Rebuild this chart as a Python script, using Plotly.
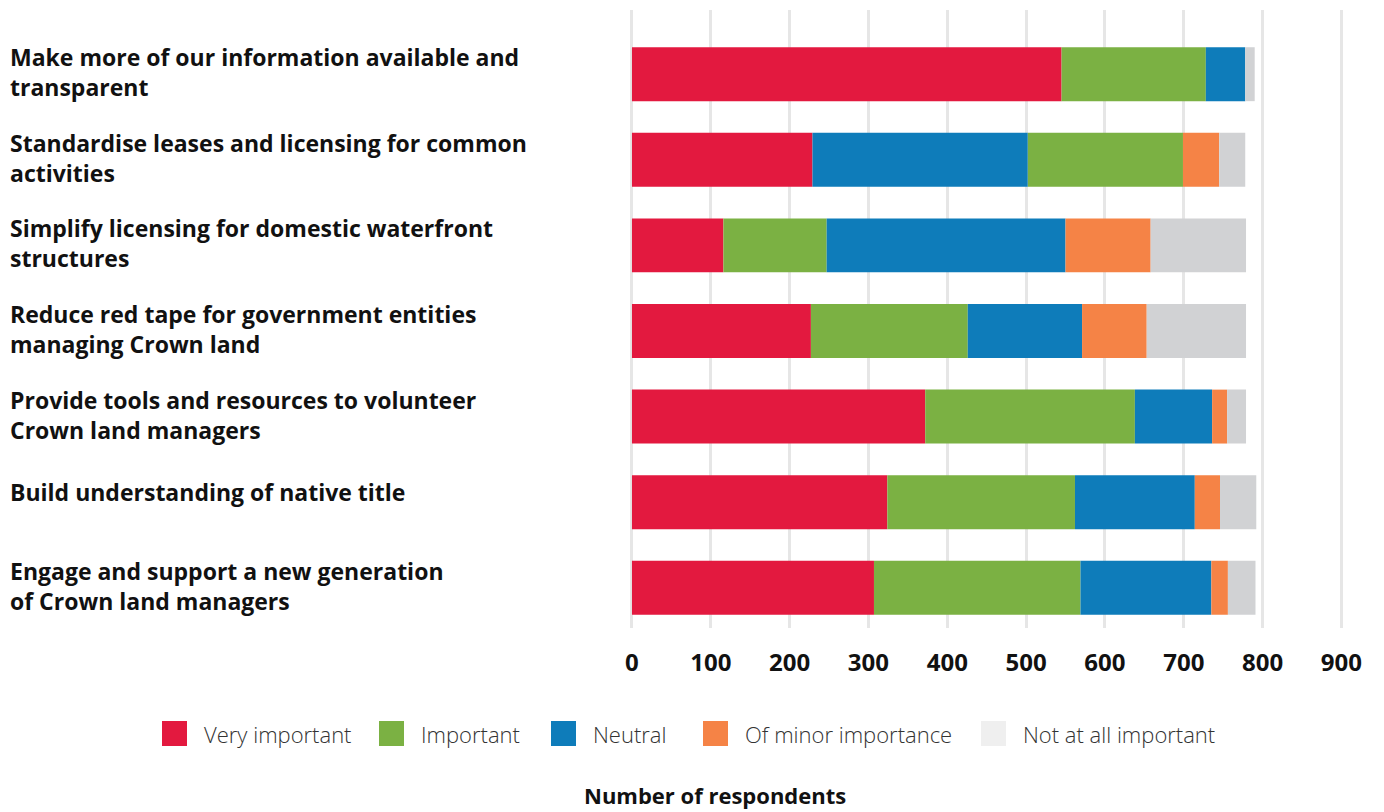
import plotly.graph_objects as go

# survey responses
categories = [
    "Make more of our information available and<br>transparent",
    "Standardise leases and licensing for common<br>activities",
    "Simplify licensing for domestic waterfront<br>structures",
    "Reduce red tape for government entities<br>managing Crown land",
    "Provide tools and resources to volunteer<br>Crown land managers",
    "Build understanding of native title",
    "Engage and support a new generation<br>of Crown land managers",
]
very_important = [545, 229, 116, 227, 372, 324, 307]
important = [183, 197, 131, 199, 266, 238, 262]
neutral = [50, 273, 303, 145, 98, 152, 166]
minor_importance = [0, 46, 108, 82, 19, 32, 21]
not_at_all = [12, 33, 121, 126, 24, 46, 35]

series_names = ["Very important", "Important", "Neutral",
                "Of minor importance", "Not at all important"]
series_values = [very_important, important, neutral, minor_importance, not_at_all]
bar_colors = ["#E3193F", "#7BB143", "#0E7CBA", "#F58346", "#D1D2D4"]
legend_colors = ["#E3193F", "#7BB143", "#0E7CBA", "#F58346", "#EFEFEF"]

# the second row is stacked with Neutral before Important
default_order = [0, 1, 2, 3, 4]
stack_orders = [default_order, [0, 2, 1, 3, 4]] + [default_order] * 5

bases = [[0] * len(categories) for _ in series_names]
for row, order in enumerate(stack_orders):
    running = 0
    for s in order:
        bases[s][row] = running
        running += series_values[s][row]

# page body has an 8px margin, so size the figure to what is left
OFF = 8
W, H = 1384 - OFF, 812 - OFF
ML, MR, MT, MB = 622, 15, 2, 184
PW, PH = W - ML - MR, H - MT - MB


def px_x(p):
    # p is a pixel position in the window
    return (p - OFF - ML) / PW


def px_y(p):
    return 1 - (p - OFF - MT) / PH


fig = go.Figure()
for s, name in enumerate(series_names):
    fig.add_trace(go.Bar(
        y=categories, x=series_values[s], base=bases[s],
        orientation="h", name=name, width=0.63,
        marker=dict(color=bar_colors[s], line=dict(width=0)),
        showlegend=False,
    ))

label_font = dict(family="Open Sans", size=23, color="#111111", weight=700)
for cat in categories:
    fig.add_annotation(
        x=px_x(8), xref="paper", y=cat, yref="y",
        text=cat, showarrow=False, xanchor="left", yanchor="middle",
        align="left", font=label_font,
        yshift=2 if "<br>" in cat else 10,
    )

# legend drawn by hand to get the large square swatches
swatch_x = [162, 379, 551, 703, 981]
for name, color, sx in zip(series_names, legend_colors, swatch_x):
    fig.add_shape(type="rect", xref="paper", yref="paper",
                  x0=px_x(sx), x1=px_x(sx + 25),
                  y0=px_y(746), y1=px_y(721),
                  fillcolor=color, line=dict(width=0))
    fig.add_annotation(x=px_x(sx + 40), y=px_y(734), xref="paper", yref="paper",
                       text=name, showarrow=False, xanchor="left",
                       yanchor="middle",
                       font=dict(family="Open Sans", size=22, color="#333333",
                                 weight=300))

fig.add_annotation(x=px_x(715), y=px_y(795), xref="paper", yref="paper",
                   text="Number of respondents", showarrow=False,
                   xanchor="center", yanchor="middle",
                   font=dict(family="Open Sans", size=22, color="#111111",
                             weight=700))

fig.update_layout(
    width=W, height=H,
    barmode="overlay",
    plot_bgcolor="white", paper_bgcolor="white",
    margin=dict(l=ML, r=MR, t=MT, b=MB),
    xaxis=dict(range=[-2.5, 935], dtick=100, tick0=0,
               showgrid=True, gridcolor="#E6E6E6", gridwidth=2.5,
               zeroline=False, showline=False,
               tickfont=dict(family="Open Sans", size=24, color="#111111",
                             weight=700),
               ticklabelstandoff=18),
    yaxis=dict(range=[6.47, -0.75], showticklabels=False,
               showgrid=False, zeroline=False, showline=False),
)

fig.write_html("out.html")
